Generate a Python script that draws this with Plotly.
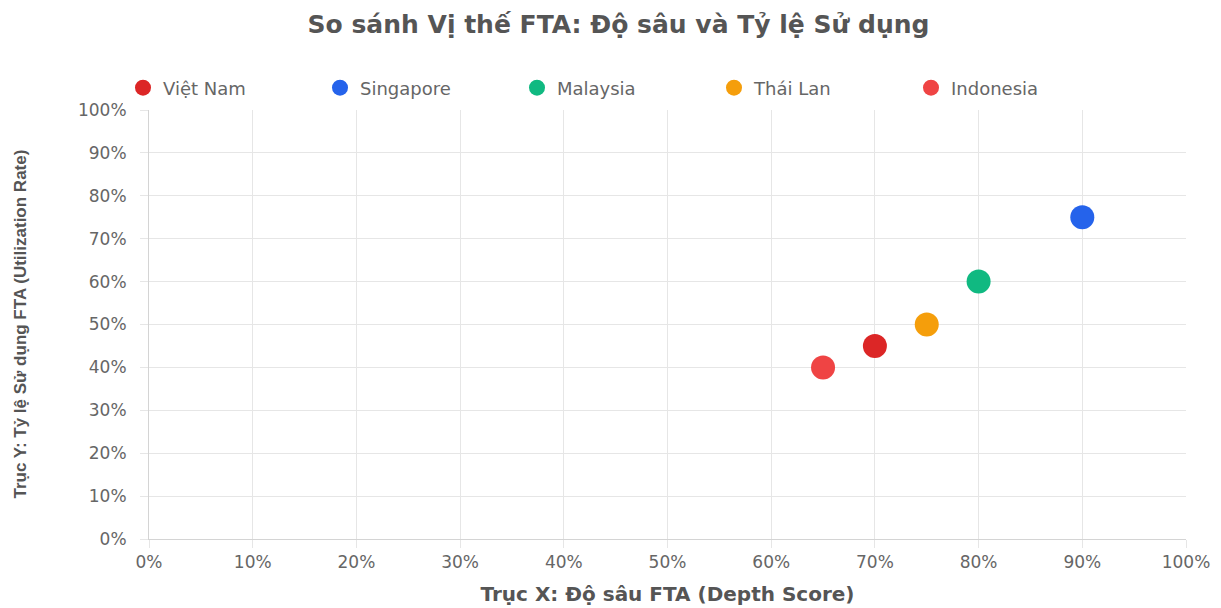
import plotly.graph_objects as go

countries = ["Việt Nam", "Singapore", "Malaysia", "Thái Lan", "Indonesia"]
depth = [70, 90, 80, 75, 65]
utilization = [45, 75, 60, 50, 40]
colors = ["#dc2626", "#2563eb", "#10b981", "#f59e0b", "#ef4444"]
tick_vals = [0, 10, 20, 30, 40, 50, 60, 70, 80, 90, 100]
tick_text = [f"{v}%" for v in tick_vals]

W, H = 1221, 608
ML, MT = 141, 102
PW, PH = 1037, 429

fig = go.Figure()
for name, x, y, c in zip(countries, depth, utilization, colors):
    fig.add_trace(go.Scatter(
        x=[x], y=[y], mode="markers", name=name,
        marker=dict(size=24, color=c),
        hovertemplate=f"{name}: (%{{x}}%, %{{y}}%)<extra></extra>",
    ))

wide = "DejaVu Sans, Verdana, sans-serif"
fig.update_layout(
    width=W, height=H,
    margin=dict(l=ML, r=W - ML - PW, t=MT, b=H - MT - PH, autoexpand=False),
    paper_bgcolor="white", plot_bgcolor="white",
    font=dict(family=wide, color="#666666", size=16),
    title=dict(text="<b>So sánh Vị thế FTA: Độ sâu và Tỷ lệ Sử dụng</b>",
               x=0.5, xanchor="center", y=1 - 16 / H, yanchor="middle",
               font=dict(family=wide, size=25, color="#555555")),
    legend=dict(orientation="h", x=0.5 - 52 / PW, xanchor="center",
                y=1 + 22 / PH, yanchor="middle",
                font=dict(family=wide, size=18, color="#666666"),
                itemsizing="trace", entrywidth=152, entrywidthmode="pixels"),
    showlegend=True,
    annotations=[dict(
        text="<b>Trục Y: Tỷ lệ Sử dụng FTA (Utilization Rate)</b>",
        xref="paper", yref="paper", x=-(149 - 20) / PW, y=0.5,
        xanchor="center", yanchor="middle", textangle=-90, showarrow=False,
        font=dict(family="Liberation Sans, Arial, sans-serif", size=17, color="#555555"),
    )],
)
axis_common = dict(
    range=[0, 100], tickvals=tick_vals, ticktext=tick_text,
    showgrid=True, gridcolor="#e6e6e6", gridwidth=1,
    zeroline=False, showline=True, linecolor="#d4d4d4", linewidth=1,
    ticks="outside", ticklen=8, tickcolor="#e6e6e6",
    tickfont=dict(family=wide, size=17, color="#666666"), fixedrange=True,
    automargin=False,
)
fig.update_xaxes(**axis_common,
                 title=dict(text="<b>Trục X: Độ sâu FTA (Depth Score)</b>",
                            font=dict(family=wide, size=20, color="#555555")))
fig.update_yaxes(**axis_common, ticklabelstandoff=10)

fig.write_html("out.html")
